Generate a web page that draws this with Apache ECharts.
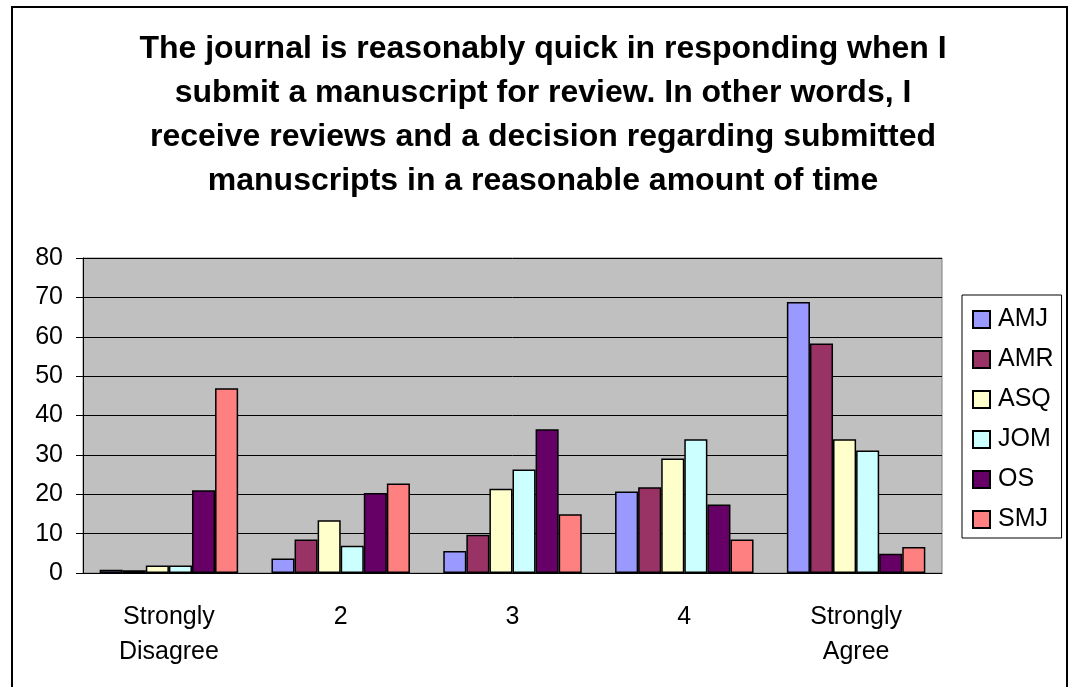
<!DOCTYPE html>
<html>
<head>
<meta charset="utf-8">
<title>Journal response time</title>
<script src="https://cdn.jsdelivr.net/npm/echarts@6/dist/echarts.min.js"></script>
<style>
  html, body { margin: 0; padding: 0; background: #ffffff; }
  #chart { width: 1070px; height: 687px; }
</style>
</head>
<body>
<div id="chart"></div>
<script>
// answer scale on the x axis
var categories = ['Strongly\nDisagree', '2', '3', '4', 'Strongly\nAgree'];
var journals = ['AMJ', 'AMR', 'ASQ', 'JOM', 'OS', 'SMJ'];
// percentages
var amj = [0.8, 3.7, 5.6, 20.7, 68.8];
var amr = [0.7, 8.5, 9.7, 21.8, 58.3];
var asq = [1.9, 13.4, 21.4, 29.1, 34.0];
var jom = [1.9, 6.9, 26.3, 34.0, 31.1];
var os = [21.0, 20.3, 36.5, 17.4, 4.9];
var smj = [46.9, 22.7, 14.9, 8.5, 6.6];
var colors = ['#9999FF', '#993366', '#FFFFCC', '#CCFFFF', '#660066', '#FF8080'];

var values = [amj, amr, asq, jom, os, smj];
var font = '"Liberation Sans", Arial, sans-serif';

var chart = echarts.init(document.getElementById('chart'));
chart.setOption({
  animation: false,
  textStyle: { fontFamily: font },
  title: {
    text: 'The journal is reasonably quick in responding when I\n' +
      'submit a manuscript for review. In other words, I\n' +
      'receive reviews and a decision regarding submitted\n' +
      'manuscripts in a reasonable amount of time',
    left: 543,
    textAlign: 'center',
    top: 27,
    padding: 0,
    textStyle: {
      fontFamily: font,
      fontSize: 32,
      fontWeight: 'bold',
      lineHeight: 44,
      color: '#000'
    }
  },
  legend: {
    data: journals,
    orient: 'vertical',
    left: 962,
    top: 295,
    padding: [12, 8, 6, 10],
    itemWidth: 17,
    itemHeight: 17,
    itemGap: 15,
    borderColor: '#000',
    borderWidth: 1,
    icon: 'rect',
    textStyle: { fontFamily: font, fontSize: 25, lineHeight: 25, color: '#000', padding: [0, 0, 0, 3] }
  },
  grid: {
    left: 83,
    top: 258,
    right: 128,
    bottom: 114,
    show: true,
    backgroundColor: '#C0C0C0',
    borderColor: '#808080',
    borderWidth: 1
  },
  xAxis: {
    type: 'category',
    data: categories,
    axisLine: { lineStyle: { color: '#000', width: 1 } },
    axisTick: { length: 8, lineStyle: { color: '#000' } },
    axisLabel: {
      fontFamily: font,
      fontSize: 25,
      lineHeight: 35,
      color: '#000',
      margin: 27,
      verticalAlign: 'top',
      interval: 0
    }
  },
  yAxis: {
    type: 'value',
    min: 0,
    max: 80,
    interval: 10,
    axisLine: { show: true, lineStyle: { color: '#000', width: 1 } },
    axisTick: { show: true, length: 7, lineStyle: { color: '#000' } },
    axisLabel: { fontFamily: font, fontSize: 25, color: '#000', margin: 20 },
    splitLine: { lineStyle: { color: '#000', width: 1 } }
  },
  series: journals.map(function (name, i) {
    return {
      name: name,
      type: 'bar',
      data: values[i],
      barGap: '0%',
      barCategoryGap: '19.4%',
      itemStyle: { color: colors[i], borderColor: '#000', borderWidth: 1.5 }
    };
  }),
  graphic: [{
    type: 'rect',
    shape: { x: 12, y: 7, width: 1055, height: 700 },
    style: { fill: null, stroke: '#000', lineWidth: 2 },
    silent: true
  }]
});
</script>
</body>
</html>
